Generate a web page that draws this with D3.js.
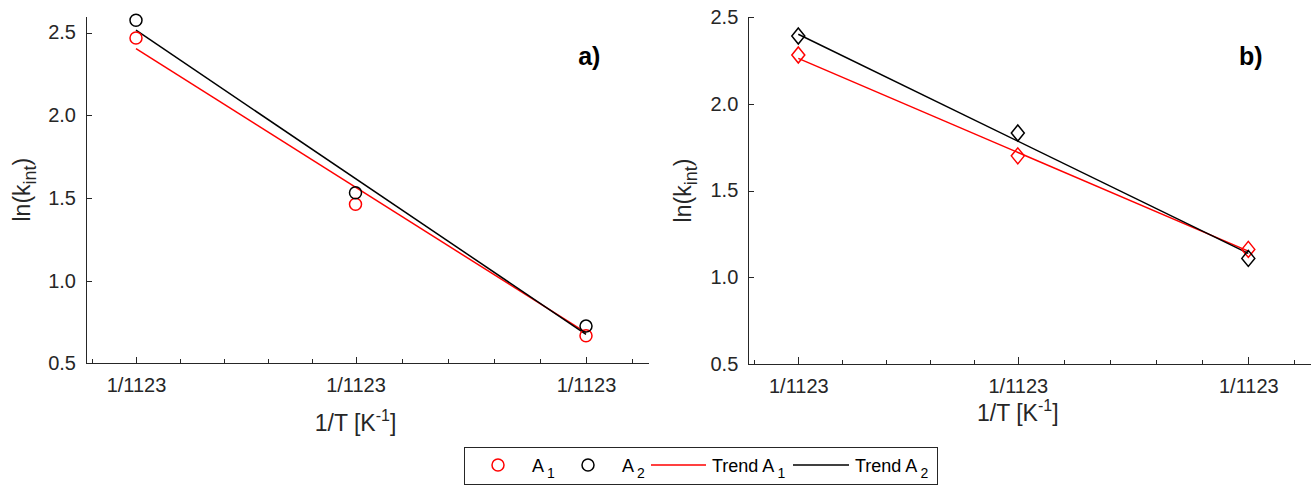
<!DOCTYPE html>
<html lang="en">
<head>
  <meta charset="UTF-8">
  <title>ln(k_int) vs 1/T</title>
  <script src="https://d3js.org/d3.v7.min.js"></script>
  <style>
    body {
      margin: 0;
      background: #fff;
    }

    svg {
      display: block;
      font-family: "Liberation Sans", Arial, Helvetica, sans-serif;
    }

    .axis path, .axis line {
      stroke: #262626;
      stroke-width: 1;
      shape-rendering: crispEdges;
    }

    .axis text {
      font-size: 20px;
      fill: #262626;
    }

    .label {
      font-size: 23px;
      fill: #262626;
    }
  </style>
</head>
<body>
  <svg id="chart" width="1316" height="486"></svg>

  <script>
    // ---- data ----
    const xTickVals = [0.000890, 0.000930, 0.000972];
    const xTickLabels = ["1/1123", "1/1123", "1/1123"];
    const xMinorVals = [0.000882, 0.000898, 0.000906, 0.000914, 0.000922,
                        0.0009384, 0.0009468, 0.0009552, 0.0009636, 0.0009804];
    const xDomain = [0.00088089, 0.00098337];
    const yTicks = [0.5, 1.0, 1.5, 2.0, 2.5];

    // panel a (circles)
    const a_A1 = [2.467, 1.462, 0.667];
    const a_A2 = [2.574, 1.531, 0.725];
    const a_trendA1 = [2.403, 0.685];
    const a_trendA2 = [2.514, 0.675];

    // panel b (diamonds)
    const b_A1 = [2.282, 1.700, 1.160];
    const b_A2 = [2.392, 1.832, 1.108];
    const b_trendA1 = [2.263, 1.150];
    const b_trendA2 = [2.402, 1.137];

    const svg = d3.select("#chart");

    function drawPanel(opt) {
      const x = d3.scaleLinear().domain(xDomain).range([opt.left, opt.right]);
      const y = d3.scaleLinear().domain(opt.yDomain).range([opt.bottom, opt.top]);
      const g = svg.append("g");

      // minor x ticks
      g.append("g")
        .attr("class", "axis")
        .attr("transform", `translate(0,${opt.bottom})`)
        .call(d3.axisBottom(x).tickValues(xMinorVals).tickSizeInner(-4).tickSizeOuter(0).tickFormat(""))
        .select(".domain").remove();

      // major x ticks
      g.append("g")
        .attr("class", "axis")
        .attr("transform", `translate(0,${opt.bottom})`)
        .call(d3.axisBottom(x).tickValues(xTickVals).tickSizeInner(-6.5).tickSizeOuter(0)
          .tickPadding(15).tickFormat((d, i) => xTickLabels[i]));

      // y axis
      g.append("g")
        .attr("class", "axis")
        .attr("transform", `translate(${opt.left},0)`)
        .call(d3.axisLeft(y).tickValues(yTicks).tickSizeInner(-6).tickSizeOuter(0)
          .tickPadding(10).tickFormat(d3.format(".1f")));

      // trend lines
      const line = d3.line().x(d => x(d[0])).y(d => y(d[1]));
      const ends = [xTickVals[0], xTickVals[xTickVals.length - 1]];
      [[opt.trendA1, "#ff0000"], [opt.trendA2, "#000000"]].forEach(([t, c]) => {
        g.append("path")
          .attr("d", line(ends.map((v, i) => [v, t[i]])))
          .attr("fill", "none")
          .attr("stroke", c)
          .attr("stroke-width", 1.5);
      });

      // markers
      const sym = opt.marker === "circle"
        ? d3.symbol().type(d3.symbolCircle).size(Math.PI * 36)
        : null;
      [[opt.A1, "#ff0000"], [opt.A2, "#000000"]].forEach(([vals, c]) => {
        vals.forEach((v, i) => {
          const cx = x(xTickVals[i]), cy = y(v);
          if (sym) {
            g.append("path")
              .attr("d", sym())
              .attr("transform", `translate(${cx},${cy})`)
              .attr("fill", "none").attr("stroke", c).attr("stroke-width", 1.5);
          } else {
            g.append("path")
              .attr("d", `M${cx},${cy - 8}L${cx + 6.5},${cy}L${cx},${cy + 8}L${cx - 6.5},${cy}Z`)
              .attr("fill", "none").attr("stroke", c).attr("stroke-width", 1.5);
          }
        });
      });

      // panel letter
      g.append("text")
        .attr("x", opt.right - 48)
        .attr("y", 65)
        .attr("text-anchor", "end")
        .style("font-size", "25px")
        .style("font-weight", "bold")
        .attr("fill", "#000")
        .text(opt.letter);

      // x label
      const xl = g.append("text")
        .attr("class", "label")
        .attr("x", x(xTickVals[1]))
        .attr("y", opt.xLabelY)
        .attr("text-anchor", "middle");
      xl.append("tspan").text("1/T [K");
      xl.append("tspan").attr("dy", -10).style("font-size", "16px").text("-1");
      xl.append("tspan").attr("dy", 10).text("]");

      // y label
      const yl = g.append("text")
        .attr("class", "label")
        .attr("transform", `translate(${opt.yLabelX},${(opt.top + opt.bottom) / 2}) rotate(-90)`)
        .attr("text-anchor", "middle");
      yl.append("tspan").text("ln(k");
      yl.append("tspan").attr("dy", 6).style("font-size", "18px").text("int");
      yl.append("tspan").attr("dy", -6).text(")");
    }

    drawPanel({
      left: 86, right: 648.4, top: 16, bottom: 363.3,
      yDomain: [0.5, 2.6], marker: "circle", letter: "a)",
      A1: a_A1, A2: a_A2, trendA1: a_trendA1, trendA2: a_trendA2,
      xLabelY: 431, yLabelX: 30
    });

    drawPanel({
      left: 748.3, right: 1310.7, top: 17.3, bottom: 363.7,
      yDomain: [0.5, 2.5], marker: "diamond", letter: "b)",
      A1: b_A1, A2: b_A2, trendA1: b_trendA1, trendA2: b_trendA2,
      xLabelY: 421, yLabelX: 691
    });

    // ---- legend ----
    const leg = svg.append("g");
    leg.append("rect")
      .attr("x", 464.5).attr("y", 447.5)
      .attr("width", 473).attr("height", 37)
      .attr("fill", "#fff")
      .attr("stroke", "#262626")
      .attr("stroke-width", 1);

    const legY = 465;
    const legItems = [
      { kind: "circle", color: "#ff0000", mx: 498, tx: 532, name: "A", sub: "1" },
      { kind: "circle", color: "#000000", mx: 588, tx: 622, name: "A", sub: "2" },
      { kind: "line", color: "#ff0000", mx: 651, mx2: 706, tx: 712, name: "Trend A", sub: "1" },
      { kind: "line", color: "#000000", mx: 793, mx2: 849, tx: 855, name: "Trend A", sub: "2" }
    ];
    legItems.forEach(it => {
      if (it.kind === "circle") {
        leg.append("circle")
          .attr("cx", it.mx).attr("cy", legY).attr("r", 6)
          .attr("fill", "none").attr("stroke", it.color).attr("stroke-width", 1.5);
      } else {
        leg.append("line")
          .attr("x1", it.mx).attr("x2", it.mx2)
          .attr("y1", legY).attr("y2", legY)
          .attr("stroke", it.color).attr("stroke-width", 1.5);
      }
      const t = leg.append("text")
        .attr("x", it.tx).attr("y", 472)
        .style("font-size", "18px")
        .attr("fill", "#000");
      t.append("tspan").text(it.name);
      t.append("tspan").attr("dx", 3).attr("dy", 6).style("font-size", "14px").text(it.sub);
    });
  </script>
</body>
</html>
